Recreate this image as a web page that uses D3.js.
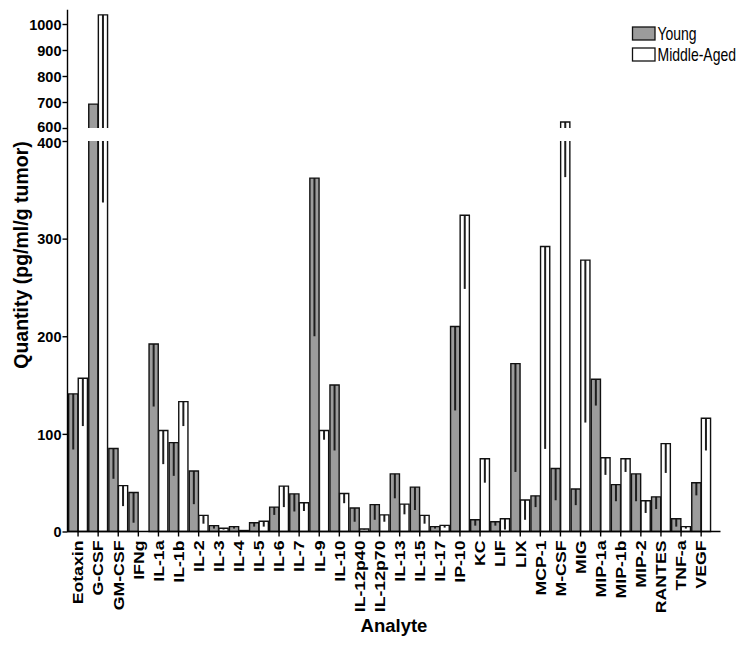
<!DOCTYPE html>
<html><head><meta charset="utf-8">
<script src="https://cdn.jsdelivr.net/npm/d3@7"></script>
<style>
body{margin:0;background:#fff}
svg{display:block}
text{font-family:"Liberation Sans",Arial,Helvetica,sans-serif}
</style>
</head><body>
<svg id="chart" width="745" height="646"></svg>
<script>
const categories = ["Eotaxin","G-CSF","GM-CSF","IFNg","IL-1a","IL-1b","IL-2","IL-3","IL-4","IL-5","IL-6","IL-7","IL-9","IL-10","IL-12p40","IL-12p70","IL-13","IL-15","IL-17","IP-10","KC","LIF","LIX","MCP-1","M-CSF","MIG","MIP-1a","MIP-1b","MIP-2","RANTES","TNF-a","VEGF"];
const young     = [141, 692, 85, 40, 192, 91, 62, 6, 5, 9, 25, 38.5, 362, 150, 24, 27.5, 59, 45.5, 5, 210, 12, 10, 172, 36.5, 64.5, 43.5, 156, 48, 59, 35.5, 13, 50];
const youngErr  = [57, 0, 31, 31, 64, 34, 34, 3, 2, 4, 8, 18, 162, 67, 14, 15.5, 25, 23.5, 2, 86, 6, 4, 111, 11.5, 32.5, 16.5, 27, 17, 28, 12.5, 8, 13];
const middle    = [157, 1035, 47, 0, 103.5, 133, 16.5, 3.3, 1, 10.5, 46.5, 29.5, 103.5, 39, 2.6, 17, 28, 16.5, 6.3, 324, 74.5, 13, 32.3, 292, 623, 278, 75.5, 74.5, 31.5, 90, 5, 116];
const middleErr = [49, 698, 21, 0, 34.5, 25, 8.5, 1.3, 0.5, 5.5, 21.5, 8.5, 9.5, 10, 0.6, 7, 10.4, 8.5, 2.3, 75.5, 24.5, 11, 20.3, 207.4, 260, 166.4, 17.5, 13.5, 12.5, 30, 2, 33];
const lowTicks  = [0, 100, 200, 300, 400];
const highTicks = [600, 700, 800, 900, 1000];
const seriesNames = ["Young", "Middle-Aged"];
const seriesFill = ["#9c9c9c", "#ffffff"];
const yTitle = "Quantity (pg/ml/g tumor)";
const xTitle = "Analyte";

const svg = d3.select("#chart");
const BREAK_LO = 400, BREAK_HI = 600;
const yLow = d3.scaleLinear().domain([0, BREAK_LO]).range([531.5, 141]);
const yHigh = d3.scaleLinear().domain([BREAK_HI, 1055]).range([128, 9.7]);
const x = d3.scaleBand().domain(categories).range([68, 711.2]).padding(0);
const step = x.bandwidth();
const barW = 9.2;

function barPaths(v, xl, xr) {
  const yb = yLow(0);
  if (v <= BREAK_LO) {
    const yt = yLow(v);
    return { fills: [[yt, yb]], outline: `M${xl},${yb}V${yt}H${xr}V${yb}Z` };
  }
  const yl = yLow(BREAK_LO), yh = yHigh(BREAK_HI), yt = yHigh(v);
  return {
    fills: [[yl, yb], [yt, yh]],
    outline: `M${xl},${yl}V${yb}H${xr}V${yl}M${xl},${yh}V${yt}H${xr}V${yh}`
  };
}
function errPieces(top, low) {
  const out = [];
  if (top <= BREAK_LO) out.push([yLow(top), yLow(low)]);
  else if (low >= BREAK_HI) out.push([yHigh(top), yHigh(low)]);
  else {
    out.push([yHigh(top), yHigh(BREAK_HI)]);
    out.push([yLow(BREAK_LO), yLow(Math.max(low, 0))]);
  }
  return out;
}

const series = [young, middle];
const errs = [youngErr, middleErr];
const gBars = svg.append("g");
categories.forEach((cat, i) => {
  const c = x(cat) + step / 2;
  series.forEach((vals, s) => {
    const v = vals[i];
    if (!(v > 0)) return;
    const xl = s === 0 ? c - 0.2 - barW : c + 0.2;
    const xr = xl + barW;
    const bp = barPaths(v, xl, xr);
    bp.fills.forEach(([yt, yb]) => {
      gBars.append("rect").attr("x", xl).attr("y", yt).attr("width", barW).attr("height", yb - yt)
        .attr("fill", seriesFill[s]);
    });
    const e = errs[s][i];
    if (e > 0) {
      errPieces(v, v - e).forEach(([y1, y2]) => {
        gBars.append("line").attr("x1", (xl + xr) / 2).attr("x2", (xl + xr) / 2)
          .attr("y1", y1).attr("y2", y2).attr("stroke", "#1e1e1e").attr("stroke-width", 2);
      });
    }
    gBars.append("path").attr("d", bp.outline).attr("fill", "none")
      .attr("stroke", "#111").attr("stroke-width", 1.4);
  });
});

// y axes
const tickFont = g => g.selectAll("text").attr("font-size", 14.5).attr("font-weight", "bold").attr("fill", "#000")
  .style("font-family", '"Liberation Sans",Arial,sans-serif');
const fmt = d3.format("d");
const axL = svg.append("g").attr("transform", "translate(67.5,0)")
  .call(d3.axisLeft(yLow).tickValues(lowTicks).tickFormat(fmt).tickSize(5).tickPadding(1).tickSizeOuter(0));
const axH = svg.append("g").attr("transform", "translate(67.5,0)")
  .call(d3.axisLeft(yHigh).tickValues(highTicks).tickFormat(fmt).tickSize(5).tickPadding(1).tickSizeOuter(0));
[axL, axH].forEach(a => {
  a.select(".domain").remove();
  a.selectAll("line").attr("stroke", "#000").attr("stroke-width", 1.4);
  a.call(tickFont);
  a.selectAll("text").attr("dy", "0.36em");
});
axH.selectAll("text").filter(d => d === BREAK_HI).attr("dy", "0.22em");
axL.selectAll("text").filter(d => d === BREAK_LO).attr("dy", "0.46em");
svg.append("line").attr("x1", 67.5).attr("x2", 67.5).attr("y1", yLow(0)).attr("y2", yHigh(1055))
  .attr("stroke", "#000").attr("stroke-width", 1.4);

// x axis
const axX = svg.append("g").attr("transform", `translate(0,${yLow(0)})`)
  .call(d3.axisBottom(x).tickSize(5).tickSizeOuter(0));
axX.select(".domain").remove();
axX.selectAll("line").attr("stroke", "#000").attr("stroke-width", 1.4);
axX.selectAll("text")
  .attr("font-size", 15).attr("font-weight", "bold").attr("fill", "#000")
  .style("font-family", '"Liberation Sans",Arial,sans-serif')
  .attr("text-anchor", "end").attr("y", 0).attr("dy", "0.35em")
  .attr("transform", "translate(0,9) rotate(-90) scale(1.18,1)");
svg.append("line").attr("x1", 67).attr("x2", 720.5).attr("y1", yLow(0)).attr("y2", yLow(0))
  .attr("stroke", "#000").attr("stroke-width", 1.4);

// titles
svg.append("text").attr("transform", "translate(28,255) rotate(-90)")
  .attr("text-anchor", "middle").attr("font-size", 19.5).attr("font-weight", "bold").text(yTitle);
svg.append("text").attr("x", 394).attr("y", 632)
  .attr("text-anchor", "middle").attr("font-size", 18.5).attr("font-weight", "bold").text(xTitle);

// legend
const leg = svg.append("g");
seriesNames.forEach((n, s) => {
  const y0 = 27 + s * 21;
  leg.append("rect").attr("x", 632.5).attr("y", y0).attr("width", 22.5).attr("height", 13)
    .attr("fill", seriesFill[s]).attr("stroke", "#111").attr("stroke-width", 1.3);
  leg.append("text").attr("transform", `translate(657.5,${y0 + 12.8}) scale(0.8,1)`)
    .attr("font-size", 17.5).text(n);
});
</script>
</body></html>
